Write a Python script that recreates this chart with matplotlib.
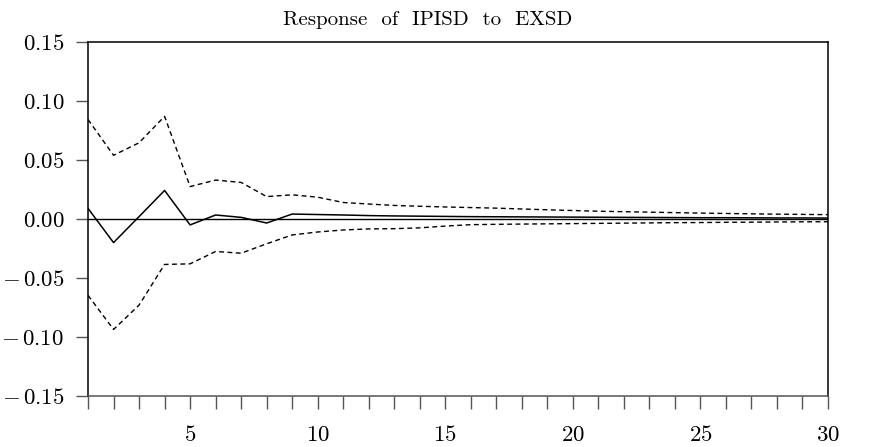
import matplotlib
matplotlib.use("Agg")
import matplotlib.pyplot as plt
from matplotlib.ticker import FixedLocator, FuncFormatter
import numpy as np

plt.rcParams["font.family"] = "serif"
plt.rcParams["font.serif"] = ["cmr10", "DejaVu Serif"]
plt.rcParams["mathtext.fontset"] = "cm"
plt.rcParams["axes.formatter.use_mathtext"] = True

# impulse response of IPISD to a shock in EXSD, with +/- 2 s.e. bands
periods = np.arange(1, 31)
response = [0.009, -0.020, 0.002, 0.0242, -0.005, 0.0034, 0.0014, -0.0034, 0.0042, 0.0038,
            0.0034, 0.0029, 0.0026, 0.0024, 0.0022, 0.0020, 0.0019, 0.0018, 0.0017, 0.0016,
            0.0015, 0.0014, 0.0013, 0.0012, 0.0011, 0.0011, 0.0010, 0.0009, 0.0009, 0.0008]
upper = [0.0843, 0.054, 0.0646, 0.087, 0.0275, 0.033, 0.031, 0.019, 0.0205, 0.0185,
         0.014, 0.0127, 0.0115, 0.0108, 0.0102, 0.0097, 0.0092, 0.0085, 0.0078, 0.0072,
         0.0066, 0.0062, 0.0058, 0.0054, 0.0050, 0.0047, 0.0044, 0.0041, 0.0039, 0.0037]
lower = [-0.0647, -0.0936, -0.073, -0.0385, -0.038, -0.0275, -0.029, -0.021, -0.0135, -0.011,
         -0.0093, -0.0084, -0.0082, -0.0075, -0.0060, -0.0048, -0.0045, -0.0043, -0.0041, -0.0039,
         -0.0037, -0.0035, -0.0033, -0.0031, -0.0030, -0.0028, -0.0027, -0.0025, -0.0024, -0.0023]
y_ticks = [-0.15, -0.10, -0.05, 0.00, 0.05, 0.10, 0.15]
x_labels = [5, 10, 15, 20, 25, 30]

fig = plt.figure(figsize=(8.75, 4.47), dpi=100)
ax = fig.add_axes([0.1006, 0.1141, 0.8457, 0.7919])

ax.axhline(0, color="black", lw=1.0)
ax.plot(periods, response, color="black", lw=1.1)
ax.plot(periods, upper, color="black", lw=1.0, ls=(0, (3.5, 2.5)))
ax.plot(periods, lower, color="black", lw=1.0, ls=(0, (3.5, 2.5)))

ax.set_xlim(1, 30)
ax.set_ylim(-0.15, 0.15)

def fmt_y(v, pos):
    s = f"{abs(v):.2f}"
    if v < 0:
        s = r"-\," + s
    return r"$\mathdefault{%s}$" % s

ax.yaxis.set_major_locator(FixedLocator(y_ticks))
ax.yaxis.set_major_formatter(FuncFormatter(fmt_y))
ax.xaxis.set_major_locator(FixedLocator(x_labels))
ax.xaxis.set_major_formatter(FuncFormatter(lambda v, pos: r"$\mathdefault{%d}$" % v))
ax.xaxis.set_minor_locator(FixedLocator([p for p in periods if p not in x_labels]))

ax.tick_params(axis="y", direction="out", length=9, width=1, color="#555555",
               labelsize=16.5, pad=8)
ax.tick_params(axis="x", which="both", direction="out", length=9, width=1,
               color="#555555", labelsize=16.5, pad=12)

for side in ["top", "right", "left", "bottom"]:
    ax.spines[side].set_linewidth(1.1)
ax.spines["bottom"].set_color("#555555")

# title sits centred on the figure rather than on the plot area
fig.text(0.489, 0.955, "Response  of  IPISD  to  EXSD", fontsize=15,
         ha="center", va="center")

fig.savefig("out.png", dpi=100)
